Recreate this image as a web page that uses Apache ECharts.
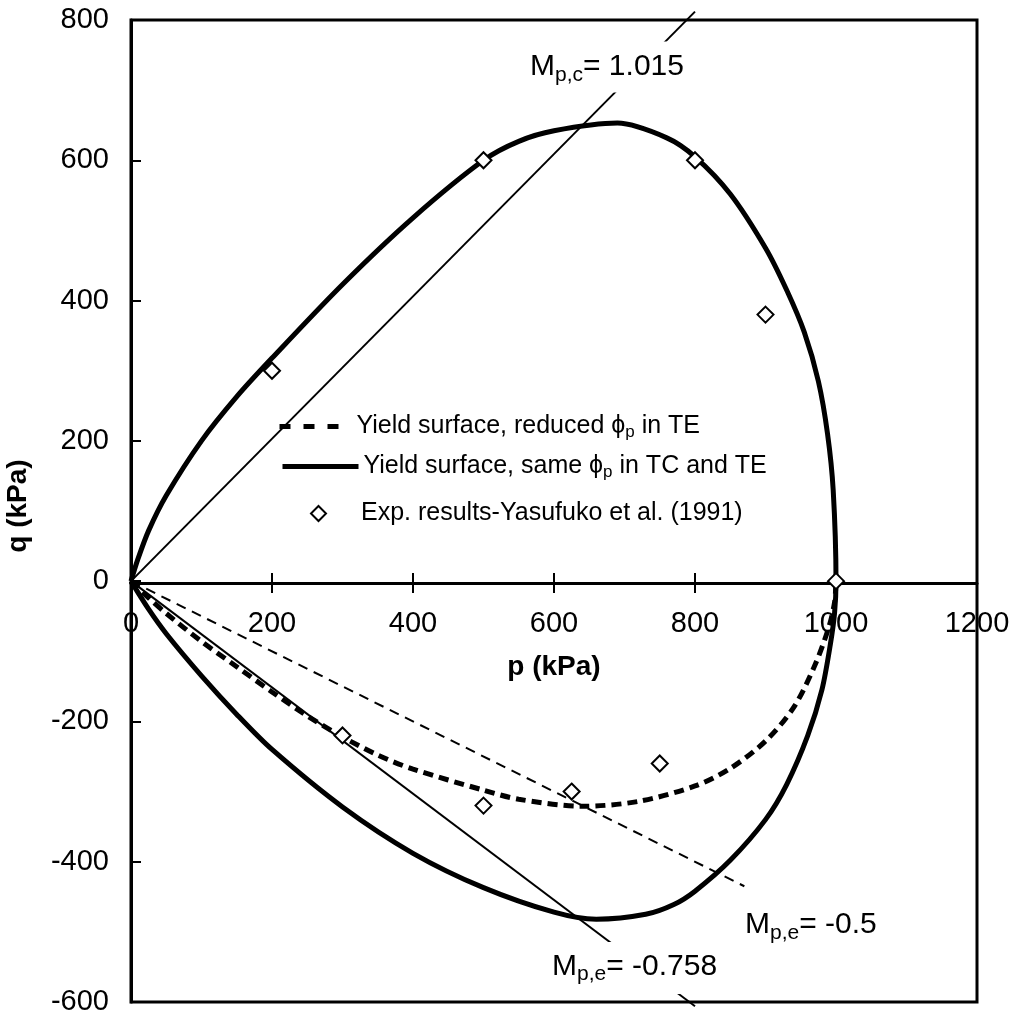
<!DOCTYPE html>
<html>
<head>
<meta charset="utf-8">
<script src="https://cdn.jsdelivr.net/npm/echarts@6/dist/echarts.min.js"></script>
<style>
html, body { margin: 0; background: #fff; }
#chart { width: 1018px; height: 1021px; }
</style>
</head>
<body>
<div id="chart"></div>
<script>
// tick values
const pTicks = [0, 200, 400, 600, 800, 1000, 1200];
const qTicks = [-600, -400, -200, 0, 200, 400, 600, 800];

// yield surface, same phi_p in TC and TE (upper branch, then lower branch back to origin)
const sameUpper = [[0, 0], [10, 32], [25, 72], [50, 122], [100, 200], [150, 263], [200, 318],
    [300, 423], [400, 518], [500, 600], [550, 627], [600, 642], [690, 653], [760, 632],
    [800, 605], [850, 552], [900, 475], [930, 415], [955, 355], [975, 285], [988, 210],
    [996, 130], [1000, 0]];
const sameLower = [[1000, 0], [998, -45], [992, -90], [980, -155], [960, -220], [930, -290],
    [900, -340], [850, -398], [800, -442], [770, -461], [730, -475], [660, -482], [600, -472],
    [500, -437], [400, -388], [300, -322], [200, -240], [150, -190], [100, -135], [50, -75],
    [25, -40], [0, 0]];

// yield surface, reduced phi_p in TE
const reducedLower = [[0, 0], [25, -24], [50, -46], [100, -86], [150, -122], [200, -158],
    [250, -192], [300, -222], [350, -248], [400, -268], [500, -298], [550, -311], [640, -321],
    [720, -314], [800, -292], [850, -267], [900, -228], [940, -180], [970, -120], [990, -65],
    [998, -30], [1000, 0]];

// Exp. results - Yasufuko et al. (1991)
const expPoints = [[200, 300], [500, 600], [800, 600], [900, 380], [1000, 0],
    [300, -220], [500, -320], [625, -300], [750, -260]];

// M lines
const lineMpc = [[0, 0], [800, 812]];
const lineMpe758 = [[0, 0], [800, -606]];
const lineMpe05 = [[0, 0], [870, -435]];

const FONT = 'Liberation Sans';

let chart = echarts.init(document.getElementById('chart'));

const legendRich = {
    t: { fontFamily: FONT, fontSize: 25, color: '#000' },
    s: { fontFamily: FONT, fontSize: 17, color: '#000', padding: [12, 0, 0, 0] },
    e: { fontFamily: FONT, fontSize: 25, color: '#000', padding: [0, 0, 0, 30] }
};
const labelRich = {
    m: { fontFamily: FONT, fontSize: 30, color: '#000' },
    s: { fontFamily: FONT, fontSize: 21, color: '#000', padding: [16, 0, 0, 0] }
};
// legend icons: hide the default dot on line items
const noDot = { color: 'rgba(0,0,0,0)', borderColor: 'rgba(0,0,0,0)', borderWidth: 0 };

let option = {
    backgroundColor: '#fff',
    animation: false,
    grid: {
        left: 131, right: 41, top: 20, bottom: 19,
        containLabel: false, outerBoundsMode: 'none',
        show: true, borderColor: '#000', borderWidth: 3, backgroundColor: 'transparent'
    },
    xAxis: [{
        type: 'value', min: 0, max: 1200, interval: 200, position: 'bottom', offset: -419,
        name: 'p (kPa)', nameLocation: 'middle', nameGap: 70,
        nameTextStyle: { fontFamily: FONT, fontSize: 28, fontWeight: 'bold', color: '#000' },
        axisLine: { onZero: false, lineStyle: { color: '#000', width: 3 } },
        axisTick: { show: true, length: 10, lineStyle: { color: '#000', width: 2 } },
        axisLabel: {
            fontFamily: FONT, fontSize: 29, color: '#000', margin: 26,
            formatter: v => pTicks.indexOf(v) >= 0 ? String(v) : ''
        },
        splitLine: { show: false }
    }, {
        type: 'value', min: 0, max: 1200, interval: 200, position: 'top', offset: -563,
        axisLine: { show: false, onZero: false },
        axisTick: { show: true, length: 10, lineStyle: { color: '#000', width: 2 } },
        axisLabel: { show: false },
        splitLine: { show: false }
    }],
    yAxis: {
        type: 'value', min: -600, max: 800, interval: 200,
        axisLine: { onZero: false, lineStyle: { color: '#000', width: 3 } },
        axisTick: { show: true, inside: true, length: 10, lineStyle: { color: '#000', width: 2 } },
        axisLabel: {
            fontFamily: FONT, fontSize: 29, color: '#000', margin: 22,
            formatter: v => qTicks.indexOf(v) >= 0 ? String(v) : ''
        },
        splitLine: { show: false }
    },
    legend: [{
        data: ['reduced'], left: 277, top: 414, padding: 0,
        itemWidth: 72, itemHeight: 1,
        itemStyle: noDot,
        lineStyle: { color: '#000', width: 5, type: [11, 13] },
        formatter: '{t|Yield surface, reduced }{t|\u03d5}{s|p}{t| in TE}',
        textStyle: { rich: legendRich }
    }, {
        data: ['same'], left: 280, top: 454, padding: 0,
        itemWidth: 76, itemHeight: 1,
        itemStyle: noDot,
        lineStyle: { color: '#000', width: 5, type: 'solid' },
        formatter: '{t|Yield surface, same }{t|\u03d5}{s|p}{t| in TC and TE}',
        textStyle: { rich: legendRich }
    }, {
        data: ['exp'], left: 310, top: 501, padding: 0,
        itemWidth: 15, itemHeight: 15,
        formatter: '{e|Exp. results-Yasufuko et al. (1991)}',
        textStyle: { rich: legendRich }
    }],
    series: [{
        name: 'same',
        type: 'line',
        data: sameUpper.concat(sameLower.slice(1)),
        smooth: 0.3,
        symbol: 'none',
        itemStyle: { color: '#000' },
        lineStyle: { color: '#000', width: 5 },
        z: 3
    }, {
        name: 'reduced',
        type: 'line',
        data: reducedLower,
        smooth: 0.3,
        symbol: 'none',
        itemStyle: { color: '#000' },
        lineStyle: { color: '#000', width: 5, type: [10, 6] },
        z: 3
    }, {
        name: 'Mpc',
        type: 'line',
        data: lineMpc,
        symbol: 'none',
        clip: false,
        lineStyle: { color: '#000', width: 2 },
        z: 2
    }, {
        name: 'Mpe758',
        type: 'line',
        data: lineMpe758,
        symbol: 'none',
        clip: false,
        lineStyle: { color: '#000', width: 2 },
        z: 2
    }, {
        name: 'Mpe05',
        type: 'line',
        data: lineMpe05,
        symbol: 'none',
        lineStyle: { color: '#000', width: 2, type: [10, 7] },
        z: 2
    }, {
        name: 'exp',
        type: 'scatter',
        data: expPoints,
        symbol: 'diamond',
        symbolSize: 16,
        itemStyle: { color: '#fff', borderColor: '#000', borderWidth: 2, opacity: 1 },
        z: 5
    }],
    graphic: [{
        type: 'text', x: 18, y: 506, rotation: Math.PI / 2, z: 100,
        style: {
            text: 'q (kPa)', fontFamily: FONT, fontSize: 28, fontWeight: 'bold', fill: '#000',
            align: 'center', verticalAlign: 'middle'
        }
    }, {
        type: 'text', x: 526, y: 67, z: 100,
        style: {
            text: '{m|M}{s|p,c}{m|= 1.015}', rich: labelRich,
            align: 'left', verticalAlign: 'middle',
            backgroundColor: '#fff', padding: [7, 4, 7, 4]
        }
    }, {
        type: 'text', x: 745, y: 925, z: 100,
        style: {
            text: '{m|M}{s|p,e}{m|= -0.5}', rich: labelRich,
            align: 'left', verticalAlign: 'middle'
        }
    }, {
        type: 'text', x: 548, y: 968, z: 100,
        style: {
            text: '{m|M}{s|p,e}{m|= -0.758}', rich: labelRich,
            align: 'left', verticalAlign: 'middle',
            backgroundColor: '#fff', padding: [6, 4, 9, 4]
        }
    }]
};

chart.setOption(option);
</script>
</body>
</html>
